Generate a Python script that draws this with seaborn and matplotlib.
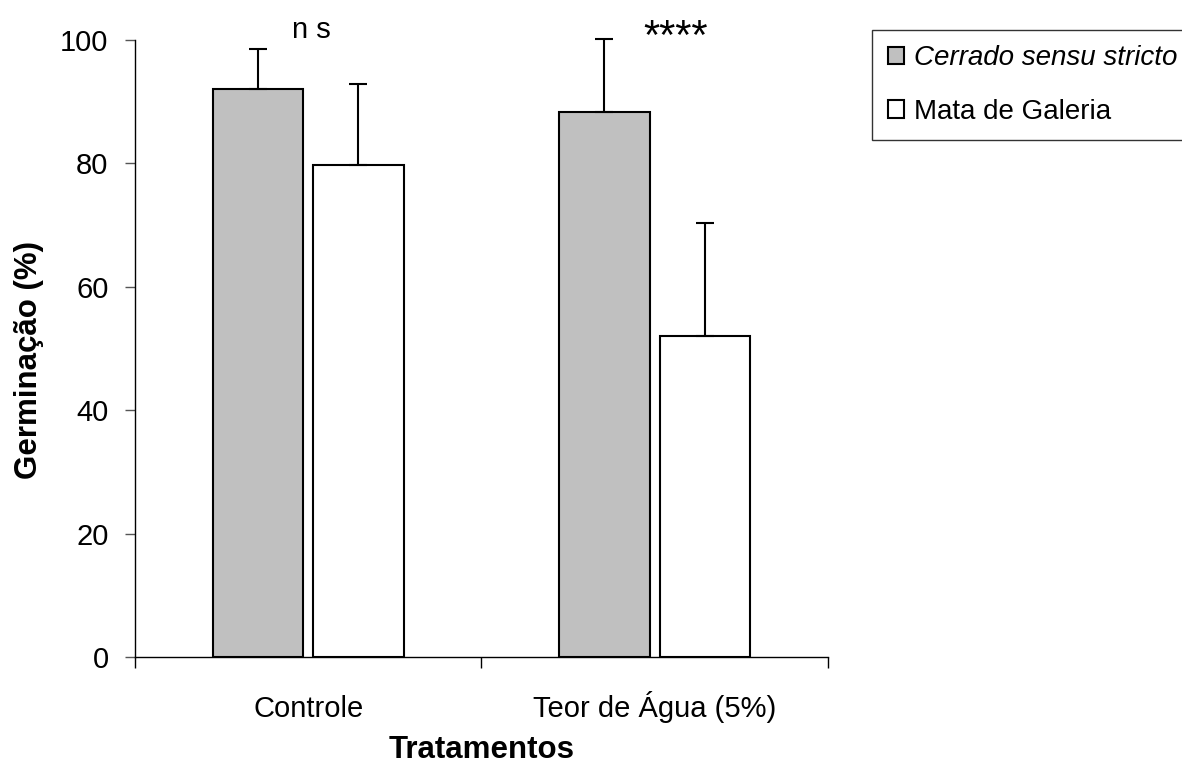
import pandas as pd
import numpy as np
import matplotlib
matplotlib.use("Agg")
import matplotlib.pyplot as plt
import seaborn as sns

# dados
tratamentos = ["Controle", "Teor de Água (5%)"]
ambientes = ["Cerrado sensu stricto", "Mata de Galeria"]
media_cerrado = [92.0, 88.3]
media_mata = [79.8, 52.0]
dp_cerrado = [6.5, 11.8]
dp_mata = [13.0, 18.3]
significancia = ["n s", "****"]

df = pd.DataFrame({
    "Tratamento": tratamentos * 2,
    "Ambiente": [ambientes[0]] * 2 + [ambientes[1]] * 2,
    "Germinacao": media_cerrado + media_mata,
})
erros = dp_cerrado + dp_mata

sns.set_style("white")
plt.rcParams["font.family"] = ["Liberation Sans", "DejaVu Sans"]
plt.rcParams["text.color"] = "black"
plt.rcParams["axes.labelcolor"] = "black"
plt.rcParams["xtick.color"] = "black"
plt.rcParams["ytick.color"] = "black"

fig = plt.figure(figsize=(11.82, 7.65), dpi=100)
ax = fig.add_axes([0.1142, 0.1412, 0.5863, 0.8065])

sns.barplot(data=df, x="Tratamento", y="Germinacao", hue="Ambiente",
            palette=["#C0C0C0", "white"], edgecolor="black", linewidth=1.5,
            width=0.58, gap=0.1, errorbar=None, ax=ax, legend=True)

# barras de erro (so para cima), a partir das barras desenhadas
bars = [p for p in ax.patches if p.get_height() > 0][:4]
xs = [b.get_x() + b.get_width() / 2 for b in bars]
ys = [b.get_height() for b in bars]
eb = ax.errorbar(xs, ys, yerr=[np.zeros(4), erros], fmt="none", ecolor="black",
                 elinewidth=1.5, capsize=6.5, capthick=1.5, zorder=3)
for art in eb.lines[1] + eb.lines[2]:
    art.set_clip_on(False)

# marcas de significancia
ax.text(0.01, 100.25, significancia[0], ha="center", va="baseline", fontsize=21)
ax.text(1.06, 103.5, significancia[1], ha="center", va="top", fontsize=30)

ax.set_xlim(-0.5, 1.5)
ax.set_ylim(0, 100)
ax.set_yticks([0, 20, 40, 60, 80, 100])
ax.set_xticks([0, 1])
ax.set_xticklabels(tratamentos, va="baseline")
ax.set_xticks([-0.5, 0.5, 1.5], minor=True)
ax.tick_params(axis="x", which="major", length=0, pad=43, labelsize=21)
ax.tick_params(axis="x", which="minor", length=8, width=1, color="black", bottom=True)
ax.tick_params(axis="y", length=7, width=1, color="#555555", pad=12, labelsize=21, left=True)

sns.despine(ax=ax)
for s in ["left", "bottom"]:
    ax.spines[s].set_color("black")
    ax.spines[s].set_linewidth(1)

ax.set_xlabel("Tratamentos", fontsize=22.5, fontweight="bold", va="center")
ax.xaxis.set_label_coords(0.5, -0.151)
ax.set_ylabel("Germinação (%)", fontsize=22.5, fontweight="bold", va="center")
ax.yaxis.set_label_coords(-0.153, 0.482)

handles, labels = ax.get_legend_handles_labels()
ax.get_legend().remove()
leg = fig.legend(handles, labels, loc="upper left", bbox_to_anchor=(0.738, 0.961),
                 frameon=True, fancybox=False, shadow=False, fontsize=20,
                 handlelength=0.6, handleheight=0.6, handletextpad=0.35,
                 borderpad=0.55, labelspacing=1.0, borderaxespad=0)
leg.get_frame().set_edgecolor("black")
leg.get_frame().set_linewidth(1)
leg.get_texts()[0].set_fontstyle("italic")

fig.savefig("out.png", dpi=100)
